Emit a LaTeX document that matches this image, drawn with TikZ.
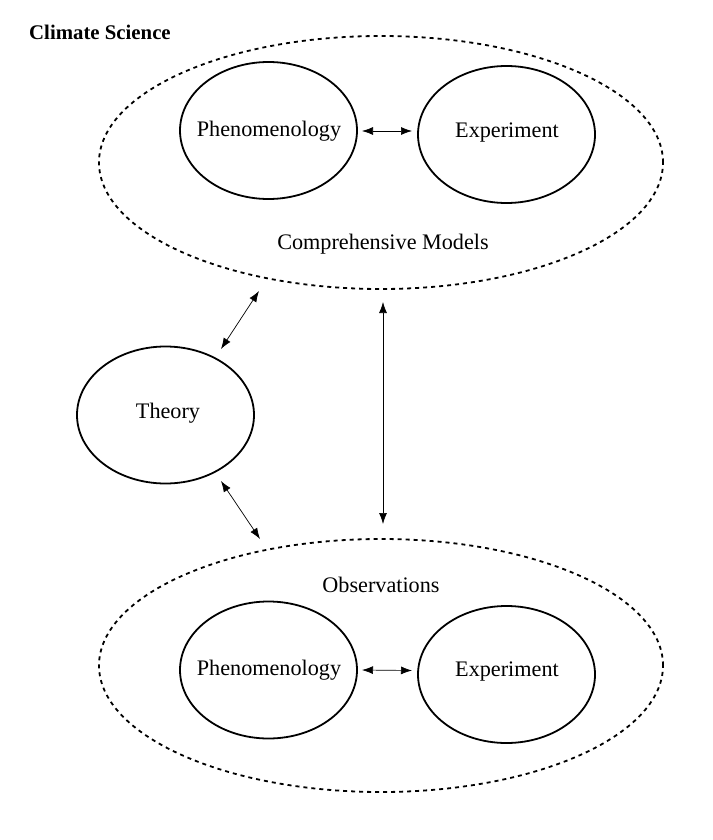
\documentclass[tikz,border=0pt]{standalone}
\usepackage{fontspec}
\setmainfont{Liberation Serif}
\usetikzlibrary{arrows.meta,shapes.geometric}
\begin{document}
\begin{tikzpicture}[x=1pt,y=-1pt,
  lbl/.style={font=\fontsize{22.2}{25}\selectfont, inner sep=0pt},
  inner/.style={draw, line width=1.8pt, ellipse, minimum width=177pt, minimum height=137pt, inner sep=0pt},
  outer/.style={draw, line width=1.8pt, dash pattern=on 4pt off 4pt, ellipse, minimum width=564pt, minimum height=253pt, inner sep=0pt},
  conn/.style={line width=0.7pt, {Latex[length=11pt,width=8pt]}-{Latex[length=11pt,width=8pt]}}]
\useasboundingbox (0,0) rectangle (712,840);
\node[outer] (top) at (381,162.5) {};
\node[outer] (bot) at (381,665.5) {};
\node[inner] (p1) at (268.5,130.5) {};
\node[inner] (e1) at (506.5,134.5) {};
\node[inner] (th) at (165.5,415) {};
\node[inner] (p2) at (268.5,670) {};
\node[inner] (e2) at (506.5,674.5) {};
\node[lbl] (tp1) at (269,131.5) {Phenomenology};
\node[lbl] (te1) at (507,132.5) {Experiment};
\node[lbl] (tth) at (168,413.5) {Theory};
\node[lbl] (tp2) at (269,670.5) {Phenomenology};
\node[lbl] (te2) at (507,671.5) {Experiment};
\node[lbl] (tcm) at (383,244.5) {Comprehensive Models};
\node[lbl] (tob) at (381,584.5) {Observations};
\node[font=\bfseries\fontsize{20.8}{24}\selectfont, inner sep=0pt, anchor=west] (title) at (29,32) {Climate Science};
\coordinate (a1) at (362,131);
\coordinate (b1) at (412,131);
\coordinate (a2) at (362,670);
\coordinate (b2) at (412,670.5);
\coordinate (c1) at (259,291);
\coordinate (d1) at (221,349);
\coordinate (c2) at (221,481);
\coordinate (d2) at (260,539);
\coordinate (v1) at (383,302);
\coordinate (v2) at (383,524);
\draw[conn] (a1) -- (b1);
\draw[conn] (a2) -- (b2);
\draw[conn] (c1) -- (d1);
\draw[conn] (c2) -- (d2);
\draw[conn] (v1) -- (v2);
\end{tikzpicture}
\end{document}
